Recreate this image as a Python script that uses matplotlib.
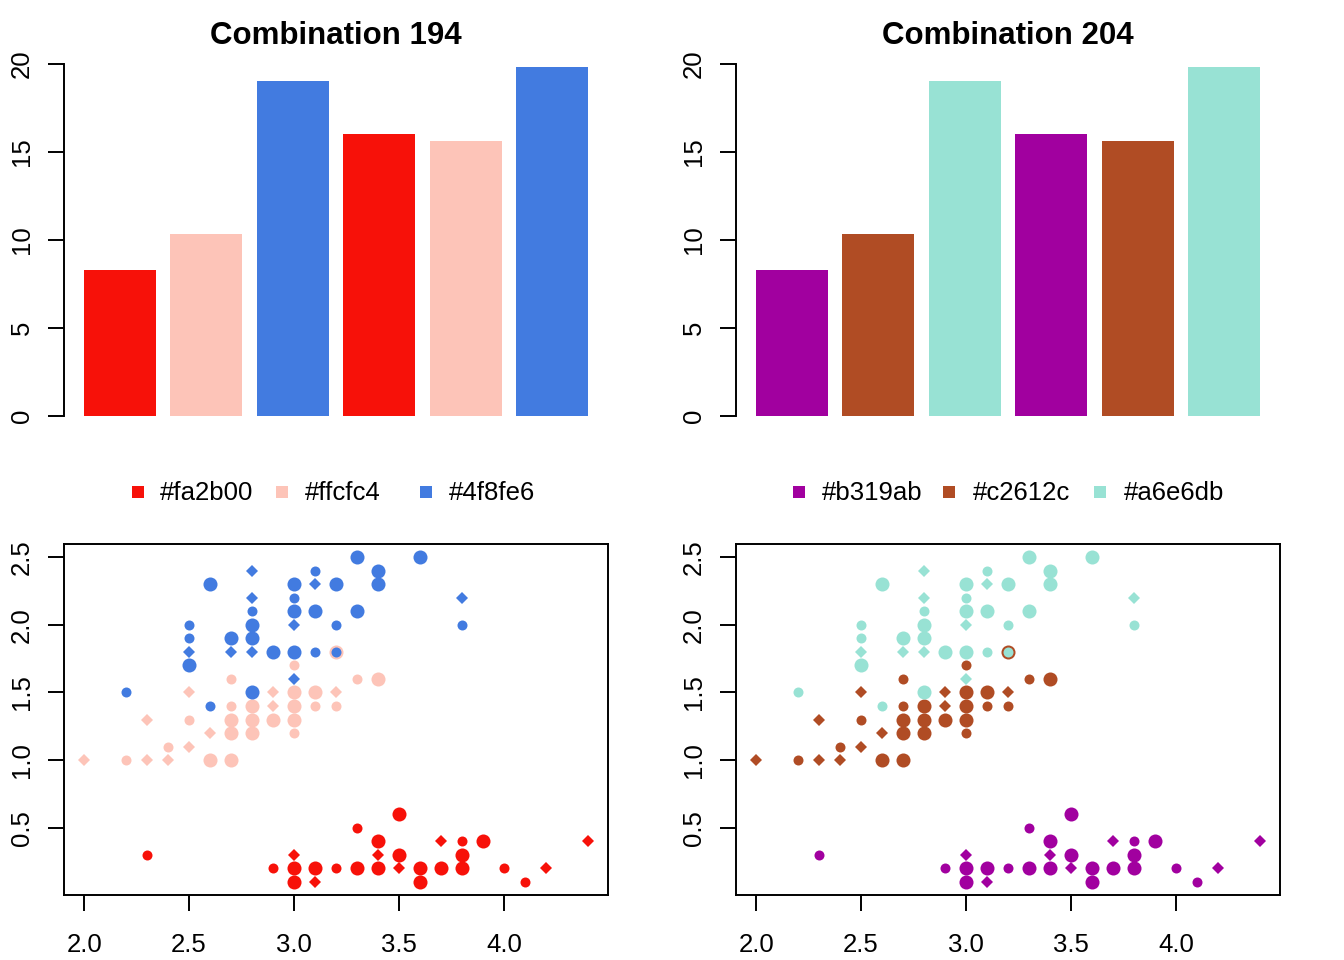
import matplotlib
matplotlib.use('Agg')
import matplotlib.pyplot as plt

plt.rcParams['font.family'] = ['Liberation Sans', 'DejaVu Sans']

# ---------------- data ----------------
bar_values = [8.3, 10.3, 19.0, 16.0, 15.6, 19.8]
bar_yticks = [0, 5, 10, 15, 20]
titles = ['Combination 194', 'Combination 204']
legend_labels = [['#fa2b00', '#ffcfc4', '#4f8fe6'],
                 ['#b319ab', '#c2612c', '#a6e6db']]
draw_colors = [['#f71109', '#fdc4b8', '#427be0'],
               ['#a1009f', '#b04c24', '#98e2d4']]

scatter_xticks = [2.0, 2.5, 3.0, 3.5, 4.0]
scatter_yticks = [0.5, 1.0, 1.5, 2.0, 2.5]

# group 1: sepal width, petal width, marker kind (L large, s small, d diamond)
g1_x = [2.3, 2.9, 3.0, 3.0, 3.0, 3.1, 3.1, 3.2, 3.3, 3.3, 3.4, 3.4, 3.4, 3.5,
        3.5, 3.5, 3.6, 3.6, 3.7, 3.7, 3.8, 3.8, 3.8, 3.9, 4.0, 4.1, 4.2, 4.4]
g1_y = [0.3, 0.2, 0.3, 0.2, 0.1, 0.2, 0.1, 0.2, 0.5, 0.2, 0.4, 0.3, 0.2, 0.6,
        0.3, 0.2, 0.2, 0.1, 0.4, 0.2, 0.4, 0.3, 0.2, 0.4, 0.2, 0.1, 0.2, 0.4]
g1_m = "ssdLLLdssLLdLLLdLLdLsLLLssdd"

g2_x = [2.0, 2.2, 2.3, 2.4, 2.6, 2.7, 2.4, 2.5, 2.3, 2.5, 2.6, 2.7, 2.7, 2.8,
        2.8, 2.9, 3.0, 3.0, 2.5, 2.7, 2.8, 2.9, 3.0, 3.1, 3.2, 2.9, 3.0, 3.1,
        3.2, 2.7, 3.3, 3.4, 3.0, 3.2]
g2_y = [1.0, 1.0, 1.0, 1.0, 1.0, 1.0, 1.1, 1.1, 1.3, 1.3, 1.2, 1.2, 1.3, 1.2,
        1.3, 1.3, 1.3, 1.2, 1.5, 1.4, 1.4, 1.4, 1.4, 1.4, 1.4, 1.5, 1.5, 1.5,
        1.5, 1.6, 1.6, 1.6, 1.7, 1.8]
g2_m = "dsddLLsddsdLLLLLLsdsLdLssdLLdssLsL"

g3_x = [2.2, 2.6, 2.8, 3.0, 2.5, 2.5, 2.5, 2.5, 2.6, 2.7, 2.7, 2.8, 2.8, 2.8,
        2.8, 2.8, 2.8, 2.9, 3.0, 3.0, 3.0, 3.0, 3.0, 3.1, 3.1, 3.1, 3.1, 3.2,
        3.2, 3.2, 3.3, 3.3, 3.4, 3.4, 3.6, 3.8, 3.8]
g3_y = [1.5, 1.4, 1.5, 1.6, 1.7, 1.8, 1.9, 2.0, 2.3, 1.8, 1.9, 1.8, 1.9, 2.0,
        2.1, 2.2, 2.4, 1.8, 1.8, 2.0, 2.1, 2.2, 2.3, 1.8, 2.1, 2.3, 2.4, 1.8,
        2.0, 2.3, 2.1, 2.5, 2.3, 2.4, 2.5, 2.0, 2.2]
g3_m = "ssLdLdssLdLdLLsddLLdLsLsLdsssLLLLLLsd"

groups = [(g1_x, g1_y, g1_m), (g2_x, g2_y, g2_m), (g3_x, g3_y, g3_m)]

# ---------------- layout ----------------
W, H = 1344, 960
fig = plt.figure(figsize=(W / 100, H / 100), dpi=100)

def fax(x0, y0, x1, y1):
    return fig.add_axes([x0 / W, 1 - y1 / H, (x1 - x0) / W, (y1 - y0) / H])

marker_style = {'L': ('o', 10.1), 's': ('o', 7.2), 'd': ('D', 6.0)}
tick_kw = dict(length=11.5, width=1.4, labelsize=18.5, color='black')

for p in range(2):
    off = 672 * p
    cols = draw_colors[p]
    # ---- bar chart ----
    ax = fax(64 + off, 53.3, 608 + off, 429.6)
    n = len(bar_values)
    centers = [0.7 + 1.2 * i for i in range(n)]
    ax.bar(centers, bar_values, width=1.0,
           color=[cols[i % 3] for i in range(n)], linewidth=0)
    ax.set_xlim(-0.08, 7.48)
    ax.set_ylim(-0.792, 20.592)
    for s in ['top', 'right', 'bottom']:
        ax.spines[s].set_visible(False)
    ax.spines['left'].set_linewidth(1.4)
    ax.spines['left'].set_bounds(0, 20)
    ax.set_xticks([])
    ax.set_yticks(bar_yticks)
    ax.set_yticklabels([str(v) for v in bar_yticks], rotation=90, va='center')
    ax.tick_params(axis='y', pad=10, **tick_kw)
    ax.set_title(titles[p], fontsize=22.5, fontweight='bold', pad=7)

    # ---- scatter ----
    sx = fax(64 + off, 544, 608 + off, 895)
    for gi, (gx, gy, gm) in enumerate(groups):
        for kind, (mk, ms) in marker_style.items():
            xs = [x for x, m in zip(gx, gm) if m == kind]
            ys = [y for y, m in zip(gy, gm) if m == kind]
            sx.plot(xs, ys, linestyle='none', marker=mk, markersize=ms,
                    color=cols[gi], markeredgewidth=0)
    sx.set_xlim(1.904, 4.496)
    sx.set_ylim(0.004, 2.596)
    for s in sx.spines.values():
        s.set_linewidth(1.4)
    sx.set_xticks(scatter_xticks)
    sx.set_xticklabels([f'{v:.1f}' for v in scatter_xticks])
    sx.set_yticks(scatter_yticks)
    sx.set_yticklabels([f'{v:.1f}' for v in scatter_yticks], rotation=90, va='center')
    sx.tick_params(axis='x', pad=16, **tick_kw)
    sx.tick_params(axis='y', pad=10, **tick_kw)

    # ---- legend (horizontal, no frame) above scatter ----
    if p == 0:
        sq_px = [138, 282, 426]
        tx_px = [160, 305, 449]
    else:
        sq_px = [799, 949, 1100]
        tx_px = [822, 973, 1124]
    ly = 1 + (544 - 492) / 351
    for i in range(3):
        sx.plot([(sq_px[i] - 64 - off) / 544], [ly], marker='s', markersize=8.3,
                color=cols[i], markeredgewidth=0, transform=sx.transAxes,
                clip_on=False, linestyle='none')
        sx.text((tx_px[i] - 64 - off) / 544, ly - 0.004, legend_labels[p][i],
                transform=sx.transAxes, fontsize=18.5, va='center', ha='left')

fig.savefig('out.png', dpi=100)
